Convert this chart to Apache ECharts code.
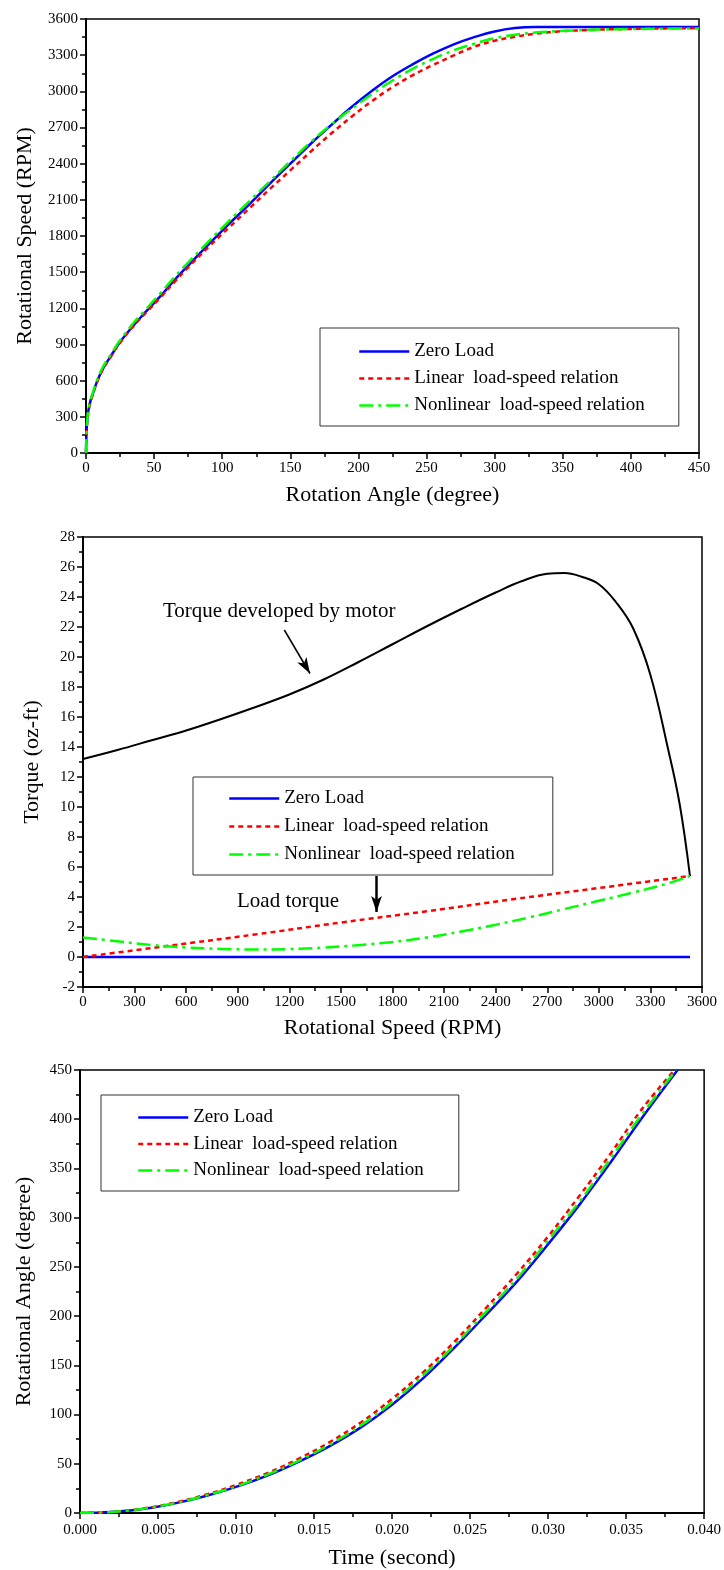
<!DOCTYPE html>
<html>
<head>
<meta charset="utf-8">
<script src="https://cdn.jsdelivr.net/npm/echarts@6/dist/echarts.min.js"></script>
<style>
  html, body { margin: 0; padding: 0; background: #fff; }
  #main { width: 724px; height: 1570px; }
</style>
</head>
<body>
<div id="main"></div>
<script>
// legend names
const nameZero = 'Zero Load';
const nameLinear = 'Linear  load-speed relation';
const nameNonlinear = 'Nonlinear  load-speed relation';

// chart 1: speed vs rotation angle
const angle1 = [0, 1, 3, 5, 8, 12, 18, 25, 35, 45, 55, 65, 75, 90, 105, 120, 135, 150, 165, 180,
  195, 210, 225, 240, 255, 270, 285, 300, 315, 330, 345, 360, 380, 400, 425, 450];
const speedZero1 = [0, 290, 420, 490, 590, 690, 800, 920, 1060, 1185, 1305, 1435, 1555, 1730, 1900, 2065, 2235, 2400, 2565, 2720,
  2870, 3005, 3125, 3225, 3314, 3390, 3450, 3497, 3525, 3533, 3533, 3533, 3533, 3533, 3533, 3533];
const speedLinear1 = [0, 280, 410, 485, 585, 685, 795, 915, 1055, 1175, 1295, 1420, 1540, 1710, 1870, 2030, 2190, 2345, 2500, 2650,
  2790, 2920, 3035, 3135, 3220, 3298, 3370, 3420, 3452, 3478, 3495, 3505, 3513, 3518, 3522, 3525];
const speedNonlinear1 = [0, 290, 425, 500, 600, 705, 815, 935, 1080, 1205, 1330, 1460, 1580, 1755, 1925, 2090, 2255, 2420, 2580, 2725,
  2855, 2978, 3090, 3188, 3270, 3340, 3395, 3440, 3470, 3488, 3498, 3506, 3513, 3517, 3520, 3522];

// chart 2: torque vs rotational speed
const rpmMotor2 = [0, 200, 400, 600, 800, 1000, 1200, 1400, 1600, 1800, 2000, 2200, 2400, 2550, 2700, 2800, 2900, 3000, 3100, 3200, 3300, 3400, 3470, 3530];
const torqueMotor2 = [13.2, 13.8, 14.45, 15.1, 15.85, 16.65, 17.5, 18.5, 19.65, 20.85, 22.05, 23.2, 24.3, 25.05, 25.55, 25.6, 25.35, 24.85, 23.65, 21.9, 18.8, 14.0, 10.2, 5.4];
const rpmZero2 = [0, 3530];
const torqueZero2 = [0, 0];
const rpmLinear2 = [0, 500, 1000, 1500, 2000, 2500, 3000, 3530];
const torqueLinear2 = [0, 0.75, 1.5, 2.3, 3.05, 3.85, 4.6, 5.4];
const rpmNonlinear2 = [0, 200, 400, 600, 800, 1000, 1200, 1400, 1600, 1800, 2000, 2200, 2400, 2600, 2800, 3000, 3200, 3400, 3530];
const torqueNonlinear2 = [1.3, 1.05, 0.8, 0.63, 0.54, 0.5, 0.53, 0.63, 0.79, 1.0, 1.3, 1.7, 2.15, 2.65, 3.2, 3.75, 4.3, 4.9, 5.4];
// annotation arrows [rpm, torque]
const arrowMotor = [[1171, 21.8], [1320, 18.9]];
const arrowLoad = [[1707, 5.4], [1707, 3.0]];

// chart 3: rotational angle vs time
const timeZero3 = [0, 0.002, 0.004, 0.006, 0.008, 0.010, 0.012, 0.014, 0.016, 0.018, 0.020, 0.022, 0.024, 0.026, 0.028, 0.030, 0.032, 0.034, 0.036, 0.0383];
const angleZero3 = [0, 1, 4, 9.5, 17, 26.5, 38, 52, 68, 87, 110, 137, 168, 201, 235, 273, 313, 356, 401, 450];
const timeLinear3 = [0, 0.002, 0.004, 0.006, 0.008, 0.010, 0.012, 0.014, 0.016, 0.018, 0.020, 0.022, 0.024, 0.026, 0.028, 0.030, 0.032, 0.034, 0.036, 0.0381];
const angleLinear3 = [0, 1.1, 4.4, 10.3, 18.3, 28.5, 40.5, 55, 72, 92, 116, 143, 174, 208, 243, 281, 322, 365, 410, 450];
const timeNonlinear3 = [0, 0.002, 0.004, 0.006, 0.008, 0.010, 0.012, 0.014, 0.016, 0.018, 0.020, 0.022, 0.024, 0.026, 0.028, 0.030, 0.032, 0.034, 0.036, 0.0382];
const angleNonlinear3 = [0, 1, 4.2, 9.8, 17.5, 27, 39, 53, 69.5, 89, 112.5, 140, 170.5, 204, 238, 277, 316, 360, 404.5, 450];

const FONT = 'Liberation Serif';

function pairs(xs, ys) {
  return xs.map((x, i) => [x, ys[i]]);
}

function axis(opt) {
  return Object.assign({
    type: 'value',
    nameLocation: 'middle',
    nameTextStyle: { fontFamily: FONT, fontSize: 22, color: '#000' },
    axisLine: { show: true, onZero: false, lineStyle: { color: '#000', width: 2 } },
    axisTick: { show: true, inside: false, length: 6, lineStyle: { color: '#000', width: 1.5 } },
    minorTick: { show: true, splitNumber: 2, length: 4, lineStyle: { color: '#000', width: 1.5 } },
    splitLine: { show: false },
    axisLabel: { fontFamily: FONT, fontSize: 15, color: '#000', margin: 8, formatter: v => String(v) }
  }, opt);
}

function curve(name, idx, data, kind) {
  const styles = {
    zero: { color: '#0000ff', width: 2.5, type: 'solid' },
    linear: { color: '#ff0000', width: 2.5, type: [5, 4] },
    nonlinear: { color: '#00ff00', width: 2.5, type: [14, 5, 3, 5] },
    motor: { color: '#000000', width: 2, type: 'solid' }
  };
  const s = styles[kind];
  return {
    name: name,
    type: 'line',
    xAxisIndex: idx,
    yAxisIndex: idx,
    data: data,
    symbol: 'none',
    smooth: 0.4,
    color: s.color,
    lineStyle: { color: s.color, width: s.width, type: s.type },
    silent: true,
    animation: false,
    z: kind === 'zero' ? 3 : (kind === 'linear' ? 4 : 5)
  };
}

function legend(left, top, padding, gap) {
  return {
    orient: 'vertical',
    left: left,
    top: top,
    padding: padding,
    itemGap: gap,
    itemWidth: 50,
    itemHeight: 14,
    itemStyle: { opacity: 0 },
    lineStyle: { width: 2.5 },
    borderColor: '#333',
    borderWidth: 1,
    backgroundColor: '#fff',
    selectedMode: false,
    textStyle: { fontFamily: FONT, fontSize: 19, color: '#000', lineHeight: 19 },
    data: [nameZero, nameLinear, nameNonlinear]
  };
}

const chart = echarts.init(document.getElementById('main'), null, { renderer: 'canvas' });

const gridStyle = { show: true, borderColor: '#000', borderWidth: 1.5, containLabel: false };

const motorSeries = curve('motor', 1, pairs(rpmMotor2, torqueMotor2), 'motor');
motorSeries.markLine = {
  silent: true,
  animation: false,
  symbol: ['none', 'arrow'],
  label: { show: false },
  data: [
    [{ coord: arrowMotor[0], symbolSize: 10, lineStyle: { color: '#000', width: 1.5, type: 'solid' } },
     { coord: arrowMotor[1] }],
    [{ coord: arrowLoad[0], symbolSize: 13, lineStyle: { color: '#000', width: 2.5, type: 'solid' } },
     { coord: arrowLoad[1] }]
  ]
};

chart.setOption({
  backgroundColor: '#fff',
  animation: false,
  grid: [
    Object.assign({ left: 86, top: 19, width: 613, height: 434 }, gridStyle),
    Object.assign({ left: 83, top: 537, width: 619, height: 450 }, gridStyle),
    Object.assign({ left: 80, top: 1070, width: 626, height: 444 }, gridStyle)
  ],
  xAxis: [
    axis({ gridIndex: 0, min: 0, max: 450, interval: 50, name: 'Rotation Angle (degree)', nameGap: 31 }),
    axis({ gridIndex: 1, min: 0, max: 3600, interval: 300, name: 'Rotational Speed (RPM)', nameGap: 30 }),
    axis({ gridIndex: 2, min: 0, max: 0.04, interval: 0.005, name: 'Time (second)', nameGap: 34,
      axisLabel: { fontFamily: FONT, fontSize: 15, color: '#000', margin: 10,
        formatter: v => v.toFixed(3) } })
  ],
  yAxis: [
    axis({ gridIndex: 0, min: 0, max: 3600, interval: 300, name: 'Rotational Speed (RPM)', nameGap: 50 }),
    axis({ gridIndex: 1, min: -2, max: 28, interval: 2, name: 'Torque (oz-ft)', nameGap: 40 }),
    axis({ gridIndex: 2, min: 0, max: 450, interval: 50, name: 'Rotational Angle (degree)', nameGap: 45 })
  ],
  legend: [
    legend(320, 328, [14, 34, 11, 38], 8),
    legend(193, 777, [12, 38, 11, 35], 9),
    legend(101, 1095, [13, 35, 11, 36], 7.5)
  ],
  graphic: [
    { type: 'text', left: 163, top: 601, silent: true,
      style: { text: 'Torque developed by motor', font: '21px "Liberation Serif"', fill: '#000' } },
    { type: 'text', left: 237, top: 891, silent: true,
      style: { text: 'Load torque', font: '21px "Liberation Serif"', fill: '#000' } }
  ],
  series: [
    curve(nameZero, 0, pairs(angle1, speedZero1), 'zero'),
    curve(nameLinear, 0, pairs(angle1, speedLinear1), 'linear'),
    curve(nameNonlinear, 0, pairs(angle1, speedNonlinear1), 'nonlinear'),
    motorSeries,
    curve(nameZero, 1, pairs(rpmZero2, torqueZero2), 'zero'),
    curve(nameLinear, 1, pairs(rpmLinear2, torqueLinear2), 'linear'),
    curve(nameNonlinear, 1, pairs(rpmNonlinear2, torqueNonlinear2), 'nonlinear'),
    curve(nameZero, 2, pairs(timeZero3, angleZero3), 'zero'),
    curve(nameLinear, 2, pairs(timeLinear3, angleLinear3), 'linear'),
    curve(nameNonlinear, 2, pairs(timeNonlinear3, angleNonlinear3), 'nonlinear')
  ]
});
</script>
</body>
</html>
